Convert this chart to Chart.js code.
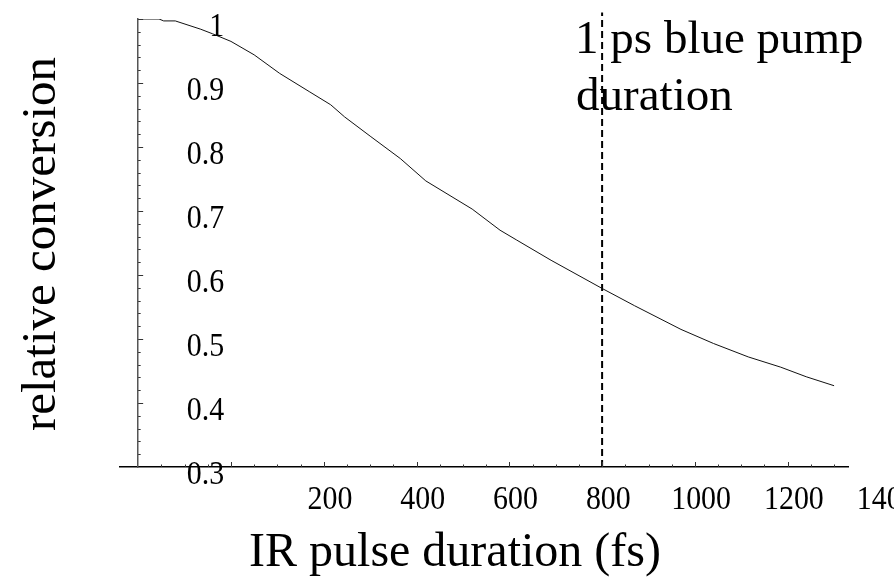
<!DOCTYPE html>
<html lang="en">
<head>
  <meta charset="UTF-8">
  <title>Relative conversion vs IR pulse duration</title>
  <script src="https://cdn.jsdelivr.net/npm/chart.js"></script>
  <style>
    html, body { margin: 0; padding: 0; background: #fff; }
  </style>
</head>
<body>
  <canvas id="convChart" width="894" height="581"></canvas>

  <script>
    // curve: IR pulse duration (fs) -> relative conversion
    const pulseFs = [0, 45, 55, 80, 135, 160, 200, 250, 305, 370, 415, 445, 500, 565, 620, 720, 780, 815, 890, 1000, 1070, 1170, 1240, 1315, 1385, 1440, 1500];
    const conversion = [1.0, 1.0, 0.997, 0.997, 0.984, 0.977, 0.965, 0.944, 0.915, 0.886, 0.866, 0.847, 0.817, 0.782, 0.747, 0.703, 0.670, 0.655, 0.623, 0.579, 0.552, 0.515, 0.493, 0.472, 0.456, 0.441, 0.427];

    // 1 ps blue pump marker
    const pumpFs = 1000;
    const pumpSpan = [0.3, 1.01];

    // tick labels as printed on the figure
    const xTickValues = [200, 400, 600, 800, 1000, 1200, 1400];
    const xTickLabels = ['200', '400', '600', '800', '1000', '1200', '1400'];
    const yTickValues = [0.3, 0.4, 0.5, 0.6, 0.7, 0.8, 0.9, 1.0];
    const yTickLabels = ['0.3', '0.4', '0.5', '0.6', '0.7', '0.8', '0.9', '1'];

    const serif = '"Liberation Serif", "Times New Roman", serif';

    // tick numbers in the figure are a narrow Times, so squeeze them a bit
    function narrowText(ctx, text, x, y, align) {
      ctx.save();
      ctx.translate(x, y);
      ctx.scale(0.88, 1);
      ctx.textAlign = align;
      ctx.fillText(text, 0, 0);
      ctx.restore();
    }

    // Mathematica-style axes: inward ticks and the (oddly placed) labels
    const axisDecor = {
      id: 'axisDecor',
      afterDraw(chart) {
        const { ctx, scales: { x, y } } = chart;
        const x0 = x.getPixelForValue(0);
        const yBase = y.getPixelForValue(0.3);
        ctx.save();
        ctx.strokeStyle = '#333';
        ctx.lineWidth = 1;

        for (let v = 50; v <= 1500; v += 50) {
          const px = Math.round(x.getPixelForValue(v)) + 0.5;
          const len = v % 200 === 0 ? 5 : 2.5;
          ctx.beginPath();
          ctx.moveTo(px, yBase);
          ctx.lineTo(px, yBase - len);
          ctx.stroke();
        }
        for (let i = 1; i <= 35; i++) {
          const py = Math.round(y.getPixelForValue(0.3 + i * 0.02)) + 0.5;
          const len = i % 5 === 0 ? 5 : 2.5;
          ctx.beginPath();
          ctx.moveTo(x0, py);
          ctx.lineTo(x0 + len, py);
          ctx.stroke();
        }

        ctx.fillStyle = '#000';
        ctx.font = '34px ' + serif;
        ctx.textBaseline = 'alphabetic';
        xTickValues.forEach((v, i) => {
          narrowText(ctx, xTickLabels[i], x.getPixelForValue(v) + 99, yBase + 42, 'center');
        });
        yTickValues.forEach((v, i) => {
          narrowText(ctx, yTickLabels[i], x0 + 86, y.getPixelForValue(v) + 17, 'right');
        });

        // annotation next to the pump line
        const pumpPx = x.getPixelForValue(pumpFs);
        ctx.font = '47px ' + serif;
        ctx.textAlign = 'left';
        ctx.fillText('1 ps blue pump', pumpPx - 27, 53);
        ctx.fillText('duration', pumpPx - 26, 110);

        // axis titles
        ctx.textAlign = 'center';
        ctx.font = '48px ' + serif;
        ctx.fillText('IR pulse duration (fs)', 455, 566);
        ctx.font = '49px ' + serif;
        ctx.translate(55, 244);
        ctx.rotate(-Math.PI / 2);
        ctx.fillText('relative conversion', 0, 0);
        ctx.restore();
      }
    };

    const ctx = document.getElementById('convChart').getContext('2d');
    new Chart(ctx, {
      type: 'line',
      data: {
        datasets: [
          {
            data: pulseFs.map((f, i) => ({ x: f, y: conversion[i] })),
            borderColor: '#111',
            borderWidth: 1,
            pointRadius: 0,
            tension: 0,
            fill: false
          },
          {
            data: pumpSpan.map(v => ({ x: pumpFs, y: v })),
            borderColor: '#000',
            borderWidth: 2,
            borderDash: [7, 4],
            pointRadius: 0,
            fill: false,
            clip: false
          }
        ]
      },
      options: {
        responsive: false,
        animation: false,
        layout: { padding: { left: 119.6, right: 46, top: 19, bottom: 114 } },
        plugins: { legend: { display: false }, tooltip: { enabled: false } },
        scales: {
          x: {
            type: 'linear',
            min: -40,
            max: 1530,
            ticks: { display: false },
            grid: { drawOnChartArea: false, drawTicks: false },
            border: { color: '#000', width: 1.5 }
          },
          y: {
            type: 'linear',
            position: { x: 0 },
            min: 0.3,
            max: 1.0,
            ticks: { display: false },
            grid: { drawOnChartArea: false, drawTicks: false },
            border: { color: '#555', width: 1.5 }
          }
        }
      },
      plugins: [axisDecor]
    });
  </script>
</body>
</html>
